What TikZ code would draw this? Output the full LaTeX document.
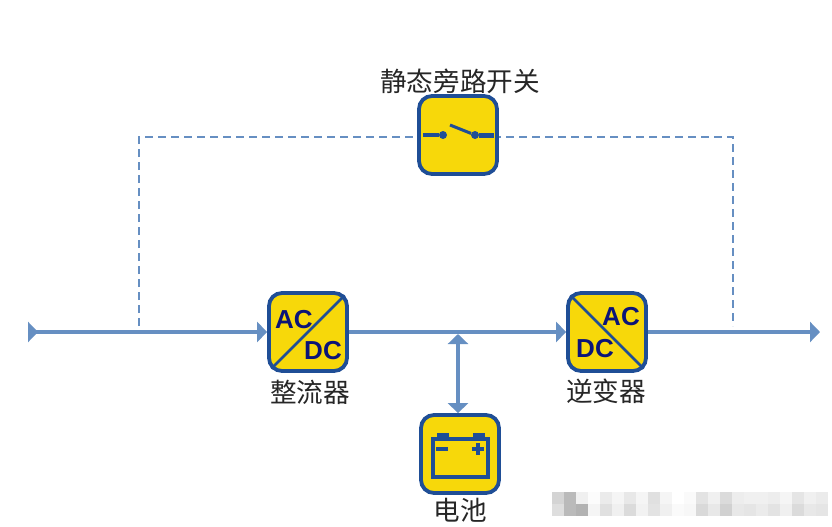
\documentclass[tikz,border=0pt]{standalone}
\usepackage{fontspec}
\setmainfont{Liberation Sans}
\newfontfamily\cjk{Noto Sans CJK SC}
\usetikzlibrary{arrows.meta, positioning}
\definecolor{boxyellow}{HTML}{F7D80A}
\definecolor{boxblue}{HTML}{1F4E96}
\definecolor{linkblue}{HTML}{668FC2}
\definecolor{acnavy}{HTML}{0B1478}
\tikzset{
  unitbox/.style={draw=boxblue, fill=boxyellow, line width=3.8pt, rounded corners=13pt, minimum size=78pt, inner sep=0pt},
  powerline/.style={draw=linkblue, line width=4.5pt, >={Triangle[length=10pt,width=20pt]}},
  bypassline/.style={draw=linkblue, line width=1.1pt, dash pattern=on 8pt off 5pt},
  caption/.style={font=\cjk\fontsize{26.6}{30}\selectfont, text=black!85, inner sep=0pt},
  actext/.style={font=\bfseries\fontsize{26}{28}\selectfont, text=acnavy, inner sep=0pt},
  diagline/.style={draw=boxblue, line width=2.5pt, shorten >=6pt, shorten <=6pt},
  iconline/.style={draw=boxblue, line width=4pt},
  icondot/.style={circle, fill=boxblue, inner sep=0pt, minimum size=8pt}
}
\begin{document}
\begin{tikzpicture}[x=1pt, y=-1pt]
\useasboundingbox (0,0) rectangle (832,527);
% tap points on the main line
\coordinate (inlet) at (28,332);
\coordinate (tapleft) at (139,326);
\coordinate (tapright) at (733,326);
\coordinate (outlet) at (820,332);
\coordinate (busjoin) at (458,334);
\coordinate (bypassleft) at (139,137);
\coordinate (bypassright) at (733,137);
% blurred patch, bottom right
\foreach \gtop/\gbot [count=\i from 0] in {17/13,27/27,6/30,1/4,8/12,4/6,9/14,4/5,12/11,4/6,0/2,2/3,11/15,6/9,14/18,7/9,6/10,6/8,7/11,4/6,10/14,6/9,8/10}{
  \fill[black!\gtop] (552+12*\i,492) rectangle ++(12,12);
  \fill[black!\gbot] (552+12*\i,504) rectangle ++(12,12);
}
% bypass
\draw[bypassline] (tapleft) -- (bypassleft) -- (440,137);
\draw[bypassline] (480,137) -- (bypassright) -- (tapright);
% units
\node[unitbox] (switchbox) at (458,135) {};
\node[unitbox] (rectifier) at (308,332) {};
\node[unitbox] (inverter) at (607,332) {};
\node[unitbox] (battery) at (460,454) {};
% main line
\draw[powerline, {Triangle[reversed,length=10pt,width=20pt]}->] (inlet) -- (rectifier.west);
\draw[powerline, ->] (rectifier.east) -- (inverter.west);
\draw[powerline, ->] (inverter.east) -- (outlet);
\draw[draw=linkblue, line width=3.5pt, {Triangle[length=10pt,width=20pt]}-{Triangle[length=10pt,width=20pt]}] (busjoin) -- (busjoin |- battery.north);
% converter faces
\draw[diagline] (rectifier.south west) -- (rectifier.north east);
\node[actext] (rectac) at (294,320) {AC};
\node[actext] (rectdc) at (323,351) {DC};
\draw[diagline] (inverter.north west) -- (inverter.south east);
\node[actext] (invac) at (621,317) {AC};
\node[actext] (invdc) at (595,349) {DC};
% switch symbol
\node[icondot] (contactleft) at (443,135) {};
\node[icondot] (contactright) at (475,135) {};
\draw[iconline] (423,135) -- (contactleft);
\draw[draw=boxblue, line width=5pt] (contactright) -- (494,135);
\draw[draw=boxblue, line width=3pt] (450,125) -- (contactright);
% battery symbol
\draw[iconline, fill=boxyellow] (433,439) rectangle (488,477);
\fill[boxblue] (437,433) rectangle (449,439);
\fill[boxblue] (473,433) rectangle (485,439);
\draw[iconline] (436,449) -- (448,449);
\draw[iconline] (472,449) -- (484,449);
\draw[iconline] (478,443) -- (478,455);
% captions
\node[caption] (switchlabel) at (460,81) {静态旁路开关};
\node[caption] (rectlabel) at (310,392) {整流器};
\node[caption] (invlabel) at (606,391) {逆变器};
\node[caption] (batterylabel) at (460,510) {电池};
\end{tikzpicture}
\end{document}
